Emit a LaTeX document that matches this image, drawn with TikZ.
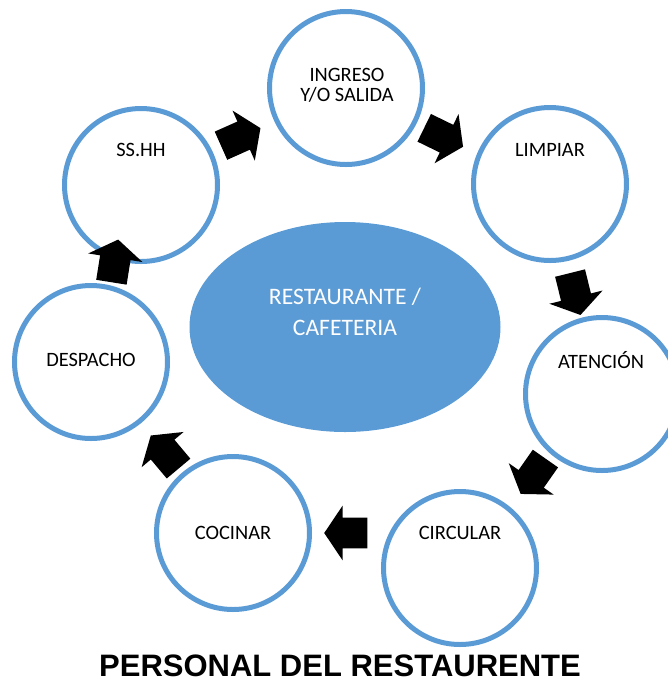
\documentclass[tikz,border=0pt]{standalone}
\usepackage{fontspec}
\setmainfont{Carlito}
\newfontfamily\titlefont{Liberation Sans}
\usetikzlibrary{shapes.arrows,shapes.geometric}
\definecolor{azul}{HTML}{5B9BD5}
\tikzset{
  etapa/.style={circle, draw=azul, line width=2.5pt, fill=white, minimum size=76.5pt, inner sep=0pt},
  etapatxt/.style={font=\fontsize{10.2}{10}\selectfont, align=center, inner sep=0pt},
  centro/.style={ellipse, fill=azul, minimum width=155.5pt, minimum height=105pt, inner sep=0pt},
  centrotxt/.style={font=\fontsize{11.8}{15.5}\selectfont, text=white, align=center, inner sep=0pt},
  flecha/.style={single arrow, fill=black, draw=none, minimum height=27pt, single arrow head extend=6pt, single arrow tip angle=100, inner xsep=0pt, inner ysep=7.5pt, rotate=#1, xscale=0.8},
  titulo/.style={font=\titlefont\bfseries\fontsize{15.5}{18}\selectfont, inner sep=0pt}
}
\begin{document}
\begin{tikzpicture}[x=0.5pt, y=-0.5pt]
  \useasboundingbox (0,0) rectangle (668,682);
  \node[centro] (rest) at (345,327) {};
  \node[centrotxt] (rest-t) at (345,312) {RESTAURANTE /\\CAFETERIA};
  \node[etapa] (ingreso) at (346,88) {};
  \node[etapa] (limpiar) at (550,184) {};
  \node[etapa] (atencion) at (602,394) {};
  \node[etapa] (circular) at (460,568) {};
  \node[etapa] (cocinar) at (233,533) {};
  \node[etapa] (despacho) at (91,362) {};
  \node[etapa] (sshh) at (141,185) {};
  \node[etapatxt] (ingreso-t) at (347,85) {INGRESO\\Y/O SALIDA};
  \node[etapatxt] (limpiar-t) at (550,150) {LIMPIAR};
  \node[etapatxt] (atencion-t) at (601,360) {ATENCIÓN};
  \node[etapatxt] (circular-t) at (460,533) {CIRCULAR};
  \node[etapatxt] (cocinar-t) at (233,533) {COCINAR};
  \node[etapatxt] (despacho-t) at (91,360) {DESPACHO};
  \node[etapatxt] (sshh-t) at (141,150) {SS.HH};
  \node[flecha=24] (f1) at (236,139) {};
  \node[flecha=-26] (f2) at (439,135) {};
  \node[flecha=-76] (f3) at (574,289) {};
  \node[flecha=-125] (f4) at (536,472) {};
  \node[flecha=180] (f5) at (351,533) {};
  \node[flecha=130] (f6) at (168,456) {};
  \node[flecha=81] (f7) at (114,266) {};
  \node[titulo] (titulo) at (340,666) {PERSONAL DEL RESTAURENTE};
\end{tikzpicture}
\end{document}
